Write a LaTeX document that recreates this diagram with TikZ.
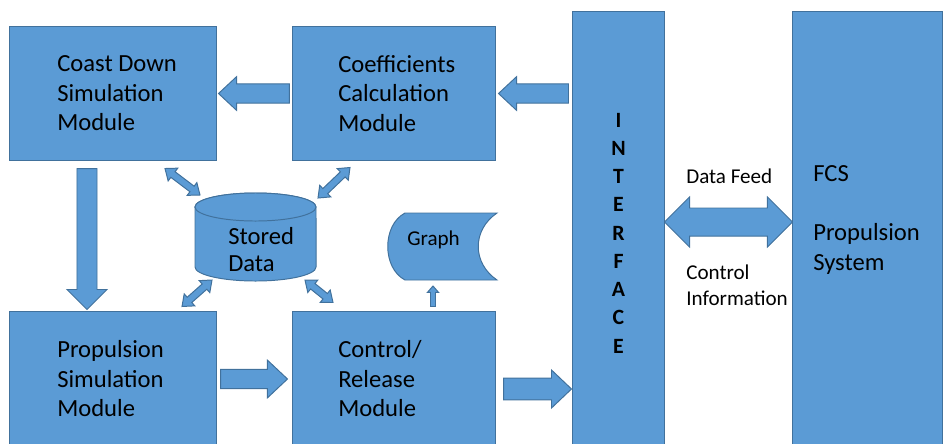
\documentclass[tikz,border=0pt]{standalone}
\usepackage{fontspec}
\setmainfont{Carlito}
\usepackage{xcolor}
\usepackage{tikz}
\usetikzlibrary{shapes.geometric, positioning, calc}

\definecolor{boxblue}{HTML}{5B9BD5}
\definecolor{boxline}{HTML}{41719C}

% block arrow: from, to, shaft half width, head half width, head length
\newcommand{\blockarrow}[5]{%
  \coordinate (ba-a) at #1;
  \coordinate (ba-b) at #2;
  \coordinate (ba-h) at ($(ba-b)!#5!(ba-a)$);
  \draw[barrow] ($(ba-a)!#3!90:(ba-b)$) -- ($(ba-h)!#3!90:(ba-b)$) -- ($(ba-h)!#4!90:(ba-b)$)
    -- (ba-b) -- ($(ba-h)!#4!-90:(ba-b)$) -- ($(ba-h)!#3!-90:(ba-b)$) -- ($(ba-a)!#3!-90:(ba-b)$) -- cycle;
}
% block arrow with two heads
\newcommand{\dblarrow}[5]{%
  \coordinate (da-a) at #1;
  \coordinate (da-b) at #2;
  \coordinate (da-g) at ($(da-a)!#5!(da-b)$);
  \coordinate (da-h) at ($(da-b)!#5!(da-a)$);
  \draw[barrow] (da-a) -- ($(da-g)!#4!90:(da-b)$) -- ($(da-g)!#3!90:(da-b)$) -- ($(da-h)!#3!90:(da-b)$)
    -- ($(da-h)!#4!90:(da-b)$) -- (da-b) -- ($(da-h)!#4!-90:(da-b)$) -- ($(da-h)!#3!-90:(da-b)$)
    -- ($(da-g)!#3!-90:(da-b)$) -- ($(da-g)!#4!-90:(da-b)$) -- cycle;
}

\begin{document}
\begin{tikzpicture}[x=0.025cm, y=-0.025cm,
  box/.style={draw=boxline, fill=boxblue, line width=0.7pt, inner sep=0pt},
  barrow/.style={draw=boxline, fill=boxblue, line width=0.7pt, line join=miter},
  lbl/.style={anchor=west, align=left, inner sep=0pt, font=\fontsize{17.5}{21}\selectfont},
  small/.style={anchor=west, align=left, inner sep=0pt, font=\fontsize{15}{18.4}\selectfont},
  iftext/.style={align=center, inner sep=0pt, font=\fontsize{15.5}{20.1}\selectfont\bfseries}]
  \useasboundingbox (0,0) rectangle (943,443);

  % modules
  \node[box, minimum width=5.15cm, minimum height=3.325cm] (coast) at (113,93.5) {};
  \node[box, minimum width=5.05cm, minimum height=3.325cm] (coef) at (394,93.5) {};
  \node[box, minimum width=5.15cm, minimum height=3.35cm] (prop) at (113,379) {};
  \node[box, minimum width=5.05cm, minimum height=3.35cm] (control) at (394,379) {};
  \node[box, minimum width=2.275cm, minimum height=10.95cm] (iface) at (618.5,231) {};
  \node[box, minimum width=3.725cm, minimum height=10.95cm] (fcs) at (867.5,231) {};

  \node[lbl] (coastlbl) at (57,93.5) {Coast Down\\Simulation\\Module};
  \node[lbl] (coeflbl) at (338,93.5) {Coefficients\\Calculation\\Module};
  \node[lbl] (proplbl) at (57,379) {Propulsion\\Simulation\\Module};
  \node[lbl] (controllbl) at (338,379) {Control/\\Release\\Module};
  \node[iftext] (ifacelbl) at (618.5,233) {I\\N\\T\\E\\R\\F\\A\\C\\E};
  \node[lbl] (fcslbl) at (813,220) {FCS\\ \\Propulsion\\System};

  % stored data
  \node[inner sep=0pt, minimum width=3.025cm, minimum height=2.2cm] (stored) at (255.5,237) {};
  \draw[box] (195,207) -- (195,267) arc[start angle=180, end angle=360, x radius=1.5125cm, y radius=0.35cm]
    -- (316,207) arc[start angle=0, end angle=180, x radius=1.5125cm, y radius=0.35cm] -- cycle;
  \draw[box] (255.5,207) ellipse[x radius=1.5125cm, y radius=0.35cm];
  \node[lbl, font=\fontsize{17.5}{19.2}\selectfont] (storedlbl) at (228,249.5) {Stored\\Data};

  % graph
  \draw[box] (405,213) -- (497,213) .. controls (472,230) and (472,263) .. (497,280)
    -- (405,280) .. controls (382,268) and (382,225) .. cycle;
  \node[small] (graph) at (407,240) {Graph};
  \coordinate (graphbot) at (433,286);

  % data feed labels
  \node[small] (feed) at (686,176) {Data Feed};
  \node[small] (ctrlinfo) at (686,285) {Control\\Information};

  % arrows
  \blockarrow{($(coef.west)+(-3,0)$)}{($(coast.east)+(2,0)$)}{0.24cm}{0.42cm}{0.45cm}
  \blockarrow{($(iface.west |- coef.west)+(-4,0)$)}{($(coef.east)+(3,0)$)}{0.24cm}{0.42cm}{0.45cm}
  \blockarrow{($(coast.south)+(-26,8)$)}{($(prop.north)+(-26,-2)$)}{0.25cm}{0.5cm}{0.5cm}
  \blockarrow{($(prop.east)+(4,0)$)}{($(control.west)+(-5,0)$)}{0.24cm}{0.47cm}{0.5cm}
  \blockarrow{($(control.east)+(8,10)$)}{($(iface.west |- control.east)+(-1,10)$)}{0.27cm}{0.475cm}{0.5cm}
  \blockarrow{($(control.north)+(39,-5)$)}{(graphbot)}{0.0625cm}{0.14cm}{0.16cm}
  \dblarrow{($(iface.east)+(0,-9)$)}{($(fcs.west)+(0,-9)$)}{0.35cm}{0.625cm}{0.625cm}

  \dblarrow{($(coast.south)+(52,8)$)}{($(stored.center)+(-55.5,-42)$)}{0.0875cm}{0.2cm}{0.25cm}
  \dblarrow{($(coef.south)+(-44,7)$)}{($(stored.center)+(62.5,-39)$)}{0.0875cm}{0.2cm}{0.25cm}
  \dblarrow{($(stored.center)+(-43.5,43)$)}{($(prop.north)+(69,-5)$)}{0.0875cm}{0.2cm}{0.25cm}
  \dblarrow{($(stored.center)+(49.5,43)$)}{($(control.north)+(-61,-9)$)}{0.0875cm}{0.2cm}{0.25cm}
\end{tikzpicture}
\end{document}
